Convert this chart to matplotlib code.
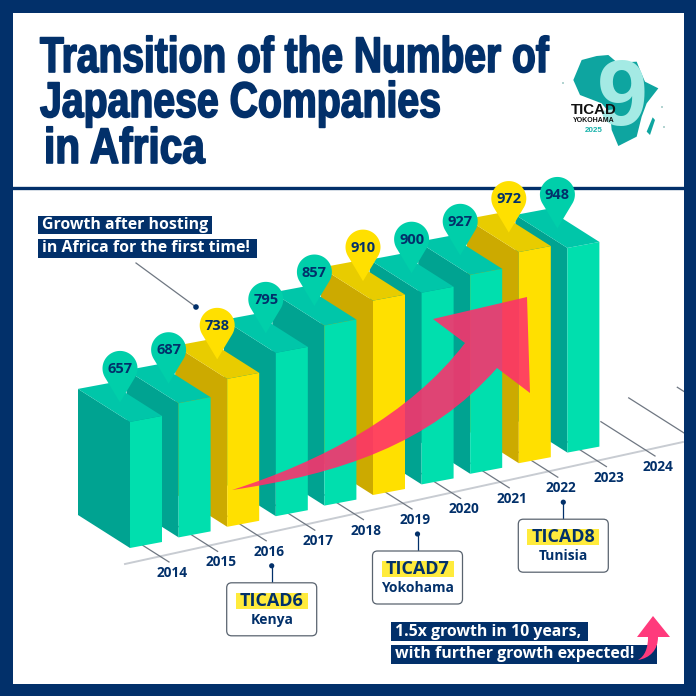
import matplotlib
matplotlib.use('Agg')
import matplotlib.pyplot as plt
from matplotlib.patches import Polygon, Circle, Rectangle, FancyBboxPatch, PathPatch
from matplotlib.patheffects import AbstractPathEffect
from matplotlib.transforms import Affine2D, Bbox
from matplotlib.path import Path
import numpy as np

years = [2014, 2015, 2016, 2017, 2018, 2019, 2020, 2021, 2022, 2023]
companies = [657, 687, 738, 795, 857, 910, 900, 927, 972, 948]
ticadYears = [2016, 2019, 2022]
tickLabels = [2014, 2015, 2016, 2017, 2018, 2019, 2020, 2021, 2022, 2023, 2024]
ticadNames = ['TICAD6', 'TICAD7', 'TICAD8']
ticadPlaces = ['Kenya', 'Yokohama', 'Tunisia']

navy = '#02306A'
tealFront, tealSide, tealTop = '#00DFAE', '#00A391', '#00C6A9'
yellowFront, yellowSide, yellowTop = '#FFE000', '#CCAA00', '#E8CC00'
pink = '#FF2F6C'
bodyFont = 'Open Sans'

# projection of the fake 3d chart, in pixels of the 696 canvas
stepX, stepY = 48.6, -10.6
depth = np.array([-52.0, -33.0])
width = np.array([32.0, -6.0])
scaleY = 0.27
baseValue = 190


class SqueezeX(AbstractPathEffect):
    # no condensed font here, so narrow the glyphs around the text's left edge
    def __init__(self, x0, sx, stroke):
        super().__init__()
        self.x0, self.sx, self.stroke = x0, sx, stroke

    def draw_path(self, renderer, gc, tpath, affine, rgbFace=None):
        squeeze = Affine2D().translate(-self.x0, 0).scale(self.sx, 1).translate(self.x0, 0)
        gc0 = renderer.new_gc()
        gc0.copy_properties(gc)
        gc0.set_linewidth(self.stroke)
        gc0.set_foreground(rgbFace)
        renderer.draw_path(gc0, tpath, affine + squeeze, rgbFace)
        gc0.restore()


def condensedText(ax, x, y, s, targetWidth, fs, stroke=1.2):
    t = ax.text(x, y, s, color=navy, fontsize=fs, family='Liberation Sans', weight='bold', va='baseline', ha='left', zorder=2)
    renderer = ax.figure.canvas.get_renderer()
    box = t.get_window_extent(renderer)
    sx = targetWidth / box.width
    t.set_path_effects([SqueezeX(box.x0, sx, stroke)])
    fitted = Bbox.from_extents(box.x0, box.y0, box.x0 + targetWidth, box.y1)
    t.get_window_extent = lambda renderer=None, dpi=None: fitted
    return t


def front(i):
    return np.array([130 + stepX * i, 548 + stepY * i])


def drawBar(ax, i, value, colors):
    f = front(i)
    up = np.array([0, -scaleY * (value - baseValue)])
    ax.add_patch(Polygon([f, f + depth, f + depth + up, f + up], color=colors[1], lw=0, zorder=3))
    ax.add_patch(Polygon([f, f + width, f + width + up, f + up], color=colors[0], lw=0, zorder=3))
    ax.add_patch(Polygon([f + up, f + width + up, f + width + depth + up, f + depth + up], color=colors[2], lw=0, zorder=3))
    return f + up + (width + depth) / 2


def drawPin(ax, tip, value, color):
    r = 17.5
    cx, cy = tip[0], tip[1] - 34
    a = np.linspace(np.radians(-30), np.radians(210), 60)
    pts = [(cx + r * np.cos(t), cy - r * np.sin(t)) for t in a]
    ax.add_patch(Polygon(pts + [tuple(tip)], closed=True, color=color, lw=0, zorder=6))
    ax.text(cx, cy + 0.5, str(value), ha='center', va='center', fontsize=10.5, color=navy,
            family=bodyFont, weight='bold', zorder=7)


def boxedLine(ax, x0, x1, y0, y1, text, fs):
    ax.add_patch(Rectangle((x0, y0), x1 - x0, y1 - y0, color=navy, lw=0, zorder=8))
    ax.text(x0 + 4, (y0 + y1) / 2, text, ha='left', va='center', color='white', fontsize=fs,
            family=bodyFont, weight='bold', zorder=9)


def drawLogo(ax):
    africa = [(155, 60), (200, 48), (235, 45), (262, 68), (320, 65), (332, 95), (345, 125), (385, 145),
              (350, 190), (335, 230), (320, 290), (265, 318), (245, 270), (240, 220), (215, 190),
              (150, 165), (130, 120)]
    pts = [(530 + x / 3, 40 + y / 3) for x, y in africa]
    ax.add_patch(Polygon(pts, color='#0EA5A0', lw=0, zorder=2))
    mad = [(350, 275), (368, 232), (375, 240), (360, 285)]
    ax.add_patch(Polygon([(530 + x / 3, 40 + y / 3) for x, y in mad], color='#0EA5A0', lw=0, zorder=2))
    for x, y in [(563, 83), (662, 107), (664, 127)]:
        ax.add_patch(Circle((x, y), 1.0, color='#9FC9C6', lw=0, zorder=2))
    ax.text(622, 101, '9', ha='center', va='center', fontsize=66, color='#A4EAE4',
            family='Liberation Sans', weight='bold', zorder=3)
    ax.text(594, 110.5, 'TICAD', ha='center', va='center', fontsize=10.8, color='#111111',
            family='Liberation Sans', weight='bold', zorder=4)
    ax.text(594, 121, 'YOKOHAMA', ha='center', va='center', fontsize=5, color='#111111',
            family='Liberation Sans', weight='bold', zorder=4)
    ax.text(594, 130, '2025', ha='center', va='center', fontsize=5.8, color='#17B2AA',
            family='Liberation Sans', weight='bold', zorder=4)


fig = plt.figure(figsize=(6.96, 6.96), dpi=100)
ax = fig.add_axes([0, 0, 1, 1])
ax.set_xlim(0, 696)
ax.set_ylim(696, 0)
ax.axis('off')

# title
condensedText(ax, 40, 72, 'Transition of the Number of', 509, 36)
condensedText(ax, 40, 117, 'Japanese Companies', 401, 36)
condensedText(ax, 44, 163, 'in Africa', 161, 36)
ax.plot([12, 684], [187.5, 187.5], color=navy, lw=2.4, zorder=1)
drawLogo(ax)

# axis line and the ticks running back along the depth direction
ax.plot([125, 683], [564, 442], color='#C8CCD2', lw=1.4, zorder=1)
for i in range(13):
    end = np.array([169 + stepX * i, 562 + stepY * i])
    k = 1.0 if i < 10 else (1.04 if i == 10 else 1.44)
    start = end + depth * k
    ax.plot([start[0], end[0]], [start[1], end[1]], color='#6F7782', lw=0.9, zorder=1)
for i, y in enumerate(tickLabels):
    ax.text(172 + stepX * i, 573 + stepY * i, str(y), ha='center', va='center', fontsize=9.8,
            color=navy, family=bodyFont, weight='bold', zorder=4)

# bars back to front so the first years stay on top
tips = {}
for i in range(len(years) - 1, -1, -1):
    isTicad = years[i] in ticadYears
    colors = (yellowFront, yellowSide, yellowTop) if isTicad else (tealFront, tealSide, tealTop)
    tips[i] = drawBar(ax, i, companies[i], colors)
for i in range(len(years)):
    drawPin(ax, tips[i], companies[i], yellowFront if years[i] in ticadYears else '#00CFAA')

# big growth arrow
verts = [(232, 490), (320, 462), (410, 415), (465, 343), (433, 319), (527, 297), (530, 393), (497, 368),
         (430, 444), (340, 474), (232, 490), (232, 490)]
codes = [Path.MOVETO, Path.CURVE4, Path.CURVE4, Path.CURVE4, Path.LINETO, Path.LINETO, Path.LINETO, Path.LINETO,
         Path.CURVE4, Path.CURVE4, Path.CURVE4, Path.CLOSEPOLY]
ax.add_patch(PathPatch(Path(verts, codes), facecolor=pink, edgecolor='none', alpha=0.88, zorder=5))

# top left callout
boxedLine(ax, 38, 212, 216, 234, 'Growth after hosting', 11.4)
boxedLine(ax, 38, 257, 239, 258, 'in Africa for the first time!', 11.4)
ax.plot([136, 196], [263, 307], color='#6F7782', lw=0.9, zorder=1)
ax.add_patch(Circle((196, 307), 2.8, color=navy, lw=0, zorder=2))

# TICAD boxes under their years
for n, y in enumerate(ticadYears):
    i = tickLabels.index(y)
    cx = 172 + stepX * i + 2.5
    cy = 573 + stepY * i
    dotY = cy + 14
    top = dotY + 17
    ax.plot([cx, cx], [dotY, top], color=navy, lw=0.9, zorder=2)
    ax.add_patch(Circle((cx, dotY), 2.6, color=navy, lw=0, zorder=3))
    ax.add_patch(FancyBboxPatch((cx - 42, top + 3), 84, 47, boxstyle='round,pad=3,rounding_size=5',
                                facecolor='white', edgecolor='#59636F', lw=0.9, zorder=3))
    ax.add_patch(Rectangle((cx - 36, top + 10), 72, 16, color='#FFEB3C', lw=0, zorder=4))
    ax.text(cx, top + 18, ticadNames[n], ha='center', va='center', fontsize=13, color=navy,
            family=bodyFont, weight='bold', zorder=5)
    ax.text(cx, top + 37, ticadPlaces[n], ha='center', va='center', fontsize=10, color=navy,
            family=bodyFont, weight='bold', zorder=5)

# bottom right callout
boxedLine(ax, 391, 588, 622, 641, '1.5x growth in 10 years,', 11.4)
boxedLine(ax, 391, 657, 645, 664, 'with further growth expected!', 11.4)
smallVerts = [(653, 616), (670, 637), (658, 637), (658, 650), (650, 658), (638, 660),
              (645, 656), (648, 648), (648, 637), (637, 637), (653, 616)]
smallCodes = [Path.MOVETO, Path.LINETO, Path.LINETO, Path.CURVE4, Path.CURVE4, Path.CURVE4,
              Path.CURVE4, Path.CURVE4, Path.CURVE4, Path.LINETO, Path.CLOSEPOLY]
ax.add_patch(PathPatch(Path(smallVerts, smallCodes), facecolor='#FF3A7C', edgecolor='none', zorder=10))

# frame on top of everything that runs off the panel
for x, y, w, h in [(0, 0, 696, 12.5), (0, 683.5, 696, 12.5), (0, 0, 12.5, 696), (683.5, 0, 12.5, 696)]:
    ax.add_patch(Rectangle((x, y), w, h, color=navy, lw=0, zorder=20))

fig.savefig('out.png', dpi=100)
